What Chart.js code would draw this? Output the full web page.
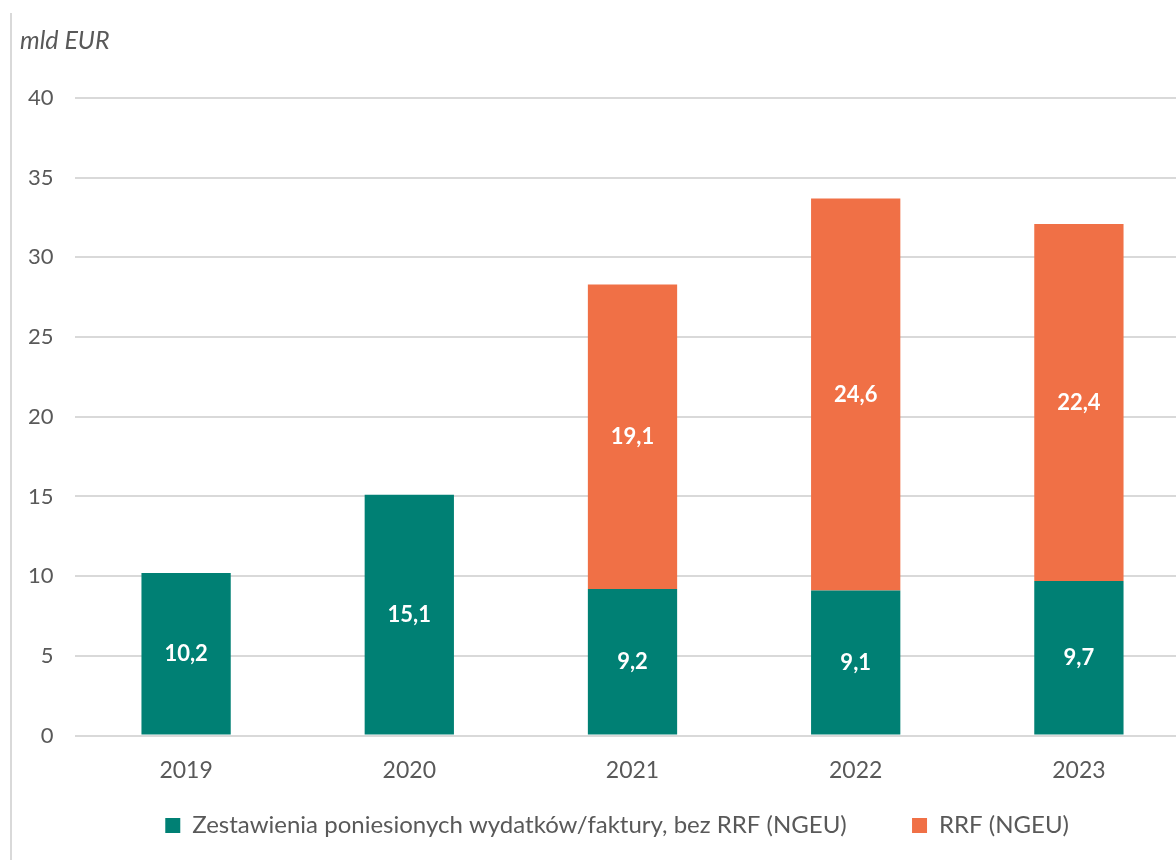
<!DOCTYPE html>
<html>
<head>
<meta charset="utf-8">
<script src="https://cdn.jsdelivr.net/npm/chart.js@4.4.1/dist/chart.umd.min.js"></script>
<style>
  html, body { margin: 0; padding: 0; background: #fff; overflow: hidden; }
  #wrap { position: absolute; left: 0; top: 0; width: 1192px; height: 860px; }
  #edge { position: absolute; left: 10px; top: 13px; width: 2px; height: 847px; background: #d9d9d9; }
</style>
</head>
<body>
<div id="wrap"><canvas id="chart"></canvas></div>
<div id="edge"></div>
<script>
    // Data
    const years = ['2019', '2020', '2021', '2022', '2023'];
    const invoices = [10.2, 15.1, 9.2, 9.1, 9.7];     // Zestawienia poniesionych wydatków/faktury
    const rrf = [null, null, 19.1, 24.6, 22.4];       // RRF (NGEU)
    const yTicks = [0, 5, 10, 15, 20, 25, 30, 35, 40];

    const FONT = 'Lato, "Open Sans", sans-serif';
    const GREY = '#595959';
    const LEGEND_SIZE = 24;

    // Pad a legend text with trailing spaces so the items sit further apart
    function padText(text, px) {
        const ctx = document.createElement('canvas').getContext('2d');
        ctx.font = LEGEND_SIZE + 'px ' + FONT;
        const base = ctx.measureText(text).width;
        let out = text;
        while (ctx.measureText(out).width - base < px) out += ' ';
        return out;
    }

    // Writes the value in the middle of each bar segment
    const valueLabels = {
        id: 'valueLabels',
        afterDatasetsDraw(chart) {
            const ctx = chart.ctx;
            ctx.save();
            ctx.font = 'bold 22px ' + FONT;
            ctx.fillStyle = '#ffffff';
            ctx.textAlign = 'center';
            ctx.textBaseline = 'middle';
            chart.data.datasets.forEach((ds, i) => {
                chart.getDatasetMeta(i).data.forEach((bar, j) => {
                    const v = ds.data[j];
                    if (v == null) return;
                    const p = bar.getCenterPoint();
                    ctx.fillText(v.toFixed(1).replace('.', ','), p.x, p.y);
                });
            });
            ctx.restore();
        }
    };

    // Unit caption above the axis
    const unitCaption = {
        id: 'unitCaption',
        afterDraw(chart) {
            const ctx = chart.ctx;
            ctx.save();
            ctx.font = 'italic 25px ' + FONT;
            ctx.fillStyle = GREY;
            ctx.textAlign = 'left';
            ctx.textBaseline = 'alphabetic';
            ctx.fillText('mld EUR', 20, 49);
            ctx.restore();
        }
    };

    new Chart(document.getElementById('chart'), {
        type: 'bar',
        data: {
            labels: years,
            datasets: [
                {
                    label: 'Zestawienia poniesionych wydatków/faktury, bez RRF (NGEU)',
                    data: invoices,
                    backgroundColor: '#008074'
                },
                {
                    label: 'RRF (NGEU)',
                    data: rrf,
                    backgroundColor: '#f07046'
                }
            ]
        },
        options: {
            responsive: true,
            maintainAspectRatio: false,
            animation: false,
            datasets: {
                bar: { categoryPercentage: 1, barPercentage: 0.4 }
            },
            layout: {
                padding: { left: 0, right: 1.5, top: 98, bottom: 12.5 }
            },
            plugins: {
                legend: {
                    position: 'bottom',
                    fullSize: false,
                    labels: {
                        boxWidth: 15,
                        boxHeight: 15,
                        padding: 10,
                        color: GREY,
                        font: { family: FONT, size: LEGEND_SIZE },
                        generateLabels(chart) {
                            const items = Chart.defaults.plugins.legend.labels.generateLabels(chart);
                            items[0].text = padText(items[0].text, 54);
                            items[1].text = padText(items[1].text, 29);
                            return items;
                        }
                    }
                },
                tooltip: { enabled: false }
            },
            scales: {
                x: {
                    stacked: true,
                    grid: { display: false, drawTicks: false },
                    border: { display: false },
                    ticks: {
                        color: GREY,
                        padding: 21,
                        font: { family: FONT, size: 23 }
                    },
                    afterFit(scale) { scale.height = 68; }
                },
                y: {
                    stacked: true,
                    min: 0,
                    max: 40,
                    afterBuildTicks(scale) { scale.ticks = yTicks.map(v => ({ value: v })); },
                    grid: { color: '#d9d9d9', lineWidth: 2, drawTicks: false },
                    border: { display: false },
                    ticks: {
                        color: GREY,
                        padding: 21,
                        font: { family: FONT, size: 22 }
                    },
                    afterFit(scale) { scale.width = 74.5; }
                }
            }
        },
        plugins: [valueLabels, unitCaption]
    });
</script>
</body>
</html>
